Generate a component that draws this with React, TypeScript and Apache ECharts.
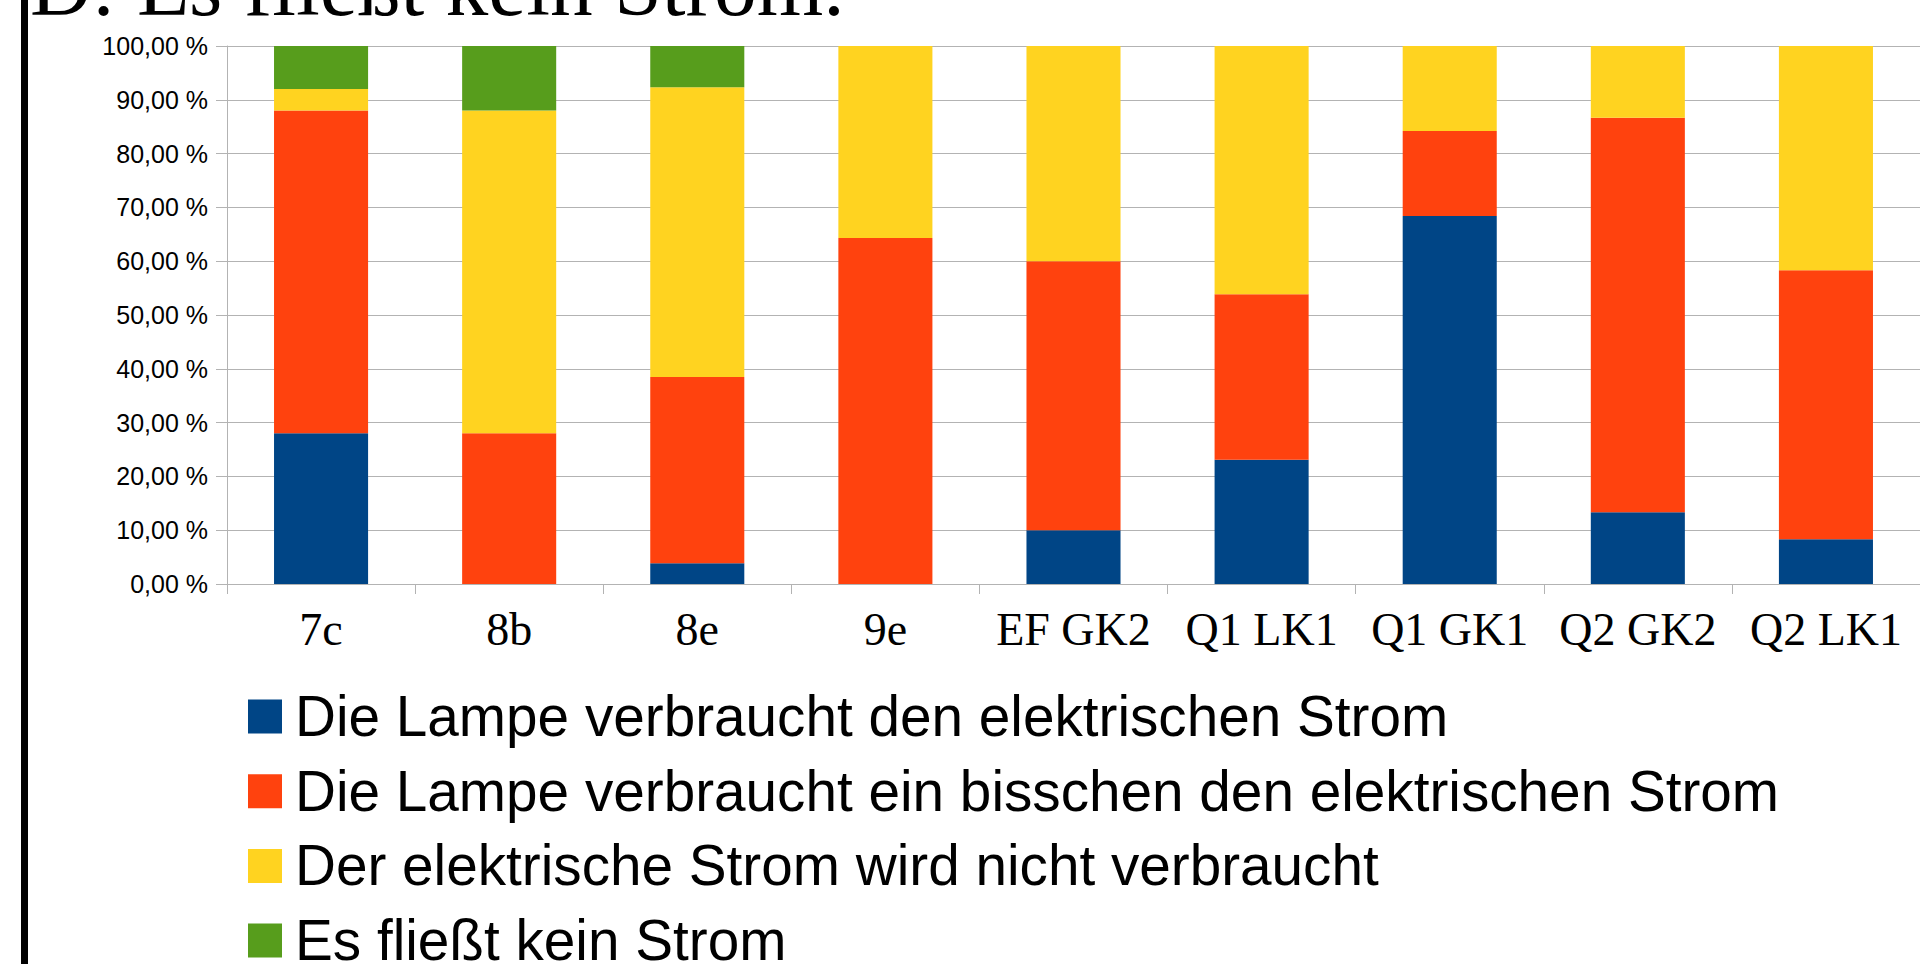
import React, { useEffect, useRef } from "react";
import * as echarts from "echarts";

const categories = ["7c", "8b", "8e", "9e", "EF GK2", "Q1 LK1", "Q1 GK1", "Q2 GK2", "Q2 LK1"];
const seriesNames = [
  "Die Lampe verbraucht den elektrischen Strom",
  "Die Lampe verbraucht ein bisschen den elektrischen Strom",
  "Der elektrische Strom wird nicht verbraucht",
  "Es fließt kein Strom",
];
const blueValues = [28, 0, 3.85, 0, 10, 23.08, 68.42, 13.33, 8.33];
const redValues = [60, 28, 34.62, 64.29, 50, 30.77, 15.79, 73.33, 50];
const yellowValues = [4, 60, 53.85, 35.71, 40, 46.15, 15.79, 13.33, 41.67];
const greenValues = [8, 12, 7.69, 0, 0, 0, 0, 0, 0];
const colors = ["#004586", "#ff420e", "#ffd320", "#579d1c"];
const titleText = "D: Es fließt kein Strom.";

export default function App() {
  const ref = useRef<HTMLDivElement>(null);
  useEffect(() => {
    if (!ref.current) return;
    const chart = echarts.init(ref.current, null, { renderer: "svg" });
    const values = [blueValues, redValues, yellowValues, greenValues];
    chart.setOption({
      animation: false,
      backgroundColor: "#ffffff",
      grid: { left: 227, top: 46, width: 1702, height: 538 },
      legend: {
        orient: "vertical",
        left: 248,
        top: 688,
        height: 320,
        padding: 0,
        itemWidth: 34,
        itemHeight: 34,
        itemGap: 17.7,
        icon: "rect",
        selectedMode: false,
        textStyle: {
          fontSize: 56.7,
          fontFamily: "Liberation Sans",
          color: "#000000",
          lineHeight: 56,
          padding: [0, 0, 0, 8],
        },
        data: seriesNames,
      },
      xAxis: {
        type: "category",
        data: categories,
        axisLine: { lineStyle: { color: "#b3b3b3", width: 1 } },
        axisTick: { show: true, length: 10, lineStyle: { color: "#b3b3b3" } },
        axisLabel: {
          fontFamily: "Liberation Serif",
          fontSize: 46,
          color: "#000000",
          margin: 22,
          interval: 0,
        },
      },
      yAxis: {
        type: "value",
        min: 0,
        max: 100,
        interval: 10,
        axisLine: { show: true, lineStyle: { color: "#b3b3b3", width: 1 } },
        axisTick: { show: true, length: 11, lineStyle: { color: "#b3b3b3" } },
        splitLine: { show: true, lineStyle: { color: "#b3b3b3", width: 1 } },
        axisLabel: {
          fontFamily: "Liberation Sans",
          fontSize: 25,
          color: "#000000",
          margin: 19,
          formatter: (v: number) => v.toFixed(2).replace(".", ",") + " %",
        },
      },
      series: seriesNames.map((name, i) => ({
        name,
        type: "bar",
        stack: "total",
        barWidth: "50%",
        data: values[i],
        itemStyle: { color: colors[i] },
      })),
      graphic: [
        {
          type: "rect",
          shape: { x: 21, y: 0, width: 7, height: 964 },
          style: { fill: "#000000" },
        },
        {
          type: "text",
          x: 30,
          y: -14,
          style: {
            text: titleText,
            fontFamily: "Liberation Serif",
            fontSize: 85.5,
            fill: "#000000",
            verticalAlign: "middle",
            align: "left",
          },
        },
      ],
    });
    return () => chart.dispose();
  }, []);
  return (
    <div
      ref={ref}
      style={{ position: "absolute", left: 0, top: 0, width: 1920, height: 964 }}
    />
  );
}
